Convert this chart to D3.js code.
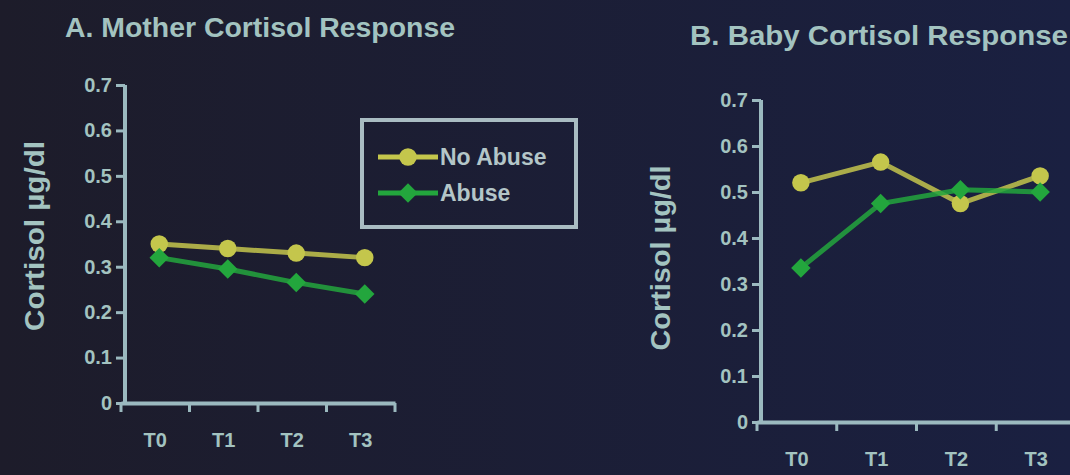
<!DOCTYPE html>
<html>
<head>
<meta charset="utf-8">
<script src="https://cdn.jsdelivr.net/npm/d3@7"></script>
<style>
  html, body { margin: 0; padding: 0; background: #1b1d30; }
  svg { display: block; }
  text { font-family: "Liberation Sans", Arial, sans-serif; font-weight: 700; }
</style>
</head>
<body>
<div id="chart"></div>
<script>
const timepoints = ["T0", "T1", "T2", "T3"];
const yTicks = [0, 0.1, 0.2, 0.3, 0.4, 0.5, 0.6, 0.7];
const seriesNames = ["No Abuse", "Abuse"];

const motherNoAbuse = [0.35, 0.34, 0.33, 0.32];
const motherAbuse = [0.32, 0.295, 0.265, 0.24];
const babyNoAbuse = [0.52, 0.565, 0.475, 0.535];
const babyAbuse = [0.335, 0.475, 0.505, 0.50];

const W = 1070, H = 475;
const textColor = "#a3c3c0";
const axisColor = "#9bb9bf";
const colors = { "No Abuse": "#c4c64c", "Abuse": "#23a63d" };

const svg = d3.select("#chart").append("svg")
  .attr("width", W).attr("height", H);

// background, a bit more blue on the right like the projected slide
const grad = svg.append("defs").append("linearGradient")
  .attr("id", "bg").attr("x1", 0).attr("x2", 1).attr("y1", 0).attr("y2", 0);
grad.append("stop").attr("offset", "0%").attr("stop-color", "#1d1c2a");
grad.append("stop").attr("offset", "100%").attr("stop-color", "#1a2041");
svg.append("rect").attr("width", W).attr("height", H).attr("fill", "url(#bg)");

// circle for No Abuse, square turned 45deg for Abuse
function marker(sel, name) {
  if (name === "No Abuse") {
    sel.attr("d", d3.symbol().type(d3.symbolCircle).size(240));
  } else {
    sel.attr("d", d3.symbol().type(d3.symbolSquare).size(190))
      .attr("transform", function () {
        return (d3.select(this).attr("transform") || "") + " rotate(45)";
      });
  }
}

function drawPanel(p) {
  const x = d3.scaleBand().domain(timepoints).range(p.xRange);
  const y = d3.scaleLinear().domain([0, 0.7]).range(p.yRange);
  const g = svg.append("g");

  // title
  g.append("text")
    .attr("x", p.title.x).attr("y", p.title.y)
    .attr("textLength", p.title.len).attr("lengthAdjust", "spacingAndGlyphs")
    .style("fill", textColor).style("font-size", "27px")
    .text(p.title.text);

  // y axis
  const yAxis = g.append("g")
    .attr("transform", `translate(${p.xRange[0] + 4},0)`)
    .call(d3.axisLeft(y).tickValues(yTicks).tickSize(9).tickPadding(4)
      .tickFormat(d => d === 0 ? "0" : d3.format(".1f")(d)));

  // x axis
  const xAxis = g.append("g")
    .attr("transform", `translate(0,${p.yRange[0]})`)
    .call(d3.axisBottom(x).tickSize(0).tickPadding(30));

  // boundary ticks between categories
  g.append("g").selectAll("line")
    .data(timepoints.concat(["end"]))
    .join("line")
    .attr("x1", (d, i) => p.xRange[0] + i * x.bandwidth())
    .attr("x2", (d, i) => p.xRange[0] + i * x.bandwidth())
    .attr("y1", p.yRange[0])
    .attr("y2", p.yRange[0] + 9)
    .attr("stroke", axisColor).attr("stroke-width", 3);

  [yAxis, xAxis].forEach(a => {
    a.select(".domain").attr("stroke", axisColor).attr("stroke-width", 4);
    a.selectAll(".tick line").attr("stroke", axisColor).attr("stroke-width", 3);
    a.selectAll("text").style("fill", textColor).style("font-size", "20px");
  });
  yAxis.select(".domain").attr("d", `M0,${p.yRange[1]}V${p.yRange[0]}`);

  // y axis title
  g.append("text")
    .attr("transform", `translate(${p.yTitle.x},${p.yTitle.y}) rotate(-90)`)
    .attr("text-anchor", "middle")
    .attr("textLength", p.yTitle.len).attr("lengthAdjust", "spacingAndGlyphs")
    .style("fill", textColor).style("font-size", "28px")
    .text("Cortisol µg/dl");

  const series = [
    { name: "No Abuse", values: p.noAbuse },
    { name: "Abuse", values: p.abuse }
  ];
  const cx = i => x(timepoints[i]) + x.bandwidth() / 2 + 4;
  const line = d3.line().x((d, i) => cx(i)).y(d => y(d));

  series.forEach(s => {
    g.append("path")
      .datum(s.values)
      .attr("d", line)
      .attr("fill", "none")
      .attr("stroke", colors[s.name])
      .attr("stroke-width", 5)
      .attr("stroke-opacity", 0.85);

    g.append("g").selectAll("path")
      .data(s.values)
      .join("path")
      .attr("transform", (d, i) => `translate(${cx(i)},${y(d)})`)
      .attr("fill", colors[s.name])
      .call(marker, s.name);
  });
}

drawPanel({
  xRange: [121, 395], yRange: [403, 85],
  title: { text: "A. Mother Cortisol Response", x: 65, y: 37, len: 390 },
  yTitle: { x: 44, y: 236, len: 190 },
  noAbuse: motherNoAbuse, abuse: motherAbuse
});

drawPanel({
  xRange: [757, 1076], yRange: [422, 100],
  title: { text: "B. Baby Cortisol Response", x: 690, y: 45, len: 378 },
  yTitle: { x: 670, y: 258, len: 185 },
  noAbuse: babyNoAbuse, abuse: babyAbuse
});

// legend
const legend = svg.append("g").attr("transform", "translate(362,120)");
legend.append("rect")
  .attr("width", 214).attr("height", 107)
  .attr("fill", "none").attr("stroke", "#a9bcc2").attr("stroke-width", 4);

seriesNames.forEach((name, i) => {
  const row = legend.append("g").attr("transform", `translate(0,${37 + i * 36})`);
  row.append("line")
    .attr("x1", 16).attr("x2", 76)
    .attr("stroke", colors[name]).attr("stroke-width", 5);
  row.append("path")
    .attr("transform", "translate(46,0)")
    .attr("fill", colors[name])
    .call(marker, name);
  row.append("text")
    .attr("x", 78).attr("y", 8)
    .style("fill", "#b4c6c8").style("font-size", "23px")
    .text(name);
});
</script>
</body>
</html>
